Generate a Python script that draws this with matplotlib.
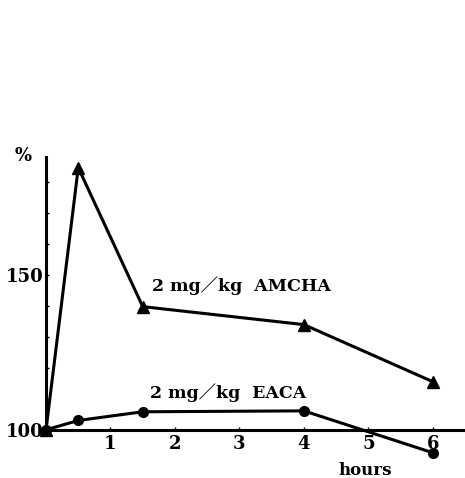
import matplotlib
matplotlib.use("Agg")
import matplotlib.pyplot as plt

# data
hours = [0, 0.5, 1.5, 4, 6]
amcha = [100, 184.5, 139.7, 133.9, 115.5]
eaca = [100, 103.0, 105.8, 106.1, 92.6]
xticks = [1, 2, 3, 4, 5, 6]
yticks_major = [100, 150]
yticks_minor = [110, 120, 130, 140, 160, 170, 180]

fam = ['DejaVu Serif', 'Noto Sans CJK JP']
plt.rcParams['font.family'] = fam

fig = plt.figure(figsize=(4.65, 4.78), dpi=100)
ax = fig.add_axes([0.099, 0.023, 0.901, 0.649])

ax.plot(hours, amcha, color='black', lw=2.2, marker='^', ms=8, clip_on=False, zorder=3)
ax.plot(hours, eaca, color='black', lw=2.2, marker='o', ms=7, clip_on=False, zorder=3)

ax.set_xlim(0, 6.5)
ax.set_ylim(88, 188)

for s in ['top', 'right']:
    ax.spines[s].set_visible(False)
ax.spines['bottom'].set_position(('data', 100))
ax.spines['left'].set_bounds(100, 188)
ax.spines['bottom'].set_linewidth(2.2)
ax.spines['left'].set_linewidth(2.2)

ax.set_xticks(xticks)
ax.set_xticklabels([str(t) for t in xticks], fontsize=13, fontweight='bold')
ax.tick_params(axis='x', direction='in', length=2.5, width=1, pad=4)
ax.set_yticks(yticks_major)
ax.set_yticklabels([str(t) for t in yticks_major], fontsize=13, fontweight='bold')
ax.set_yticks(yticks_minor, minor=True)
ax.tick_params(axis='y', which='both', direction='in', length=2.5, width=1, pad=2)

ax.text(-0.35, 188.3, '%', fontsize=13, fontweight='bold', ha='center', va='center', clip_on=False)
ax.text(4.95, 86.8, 'hours', fontsize=12, fontweight='bold', ha='center', va='center')
ax.text(1.64, 146.6, '2 mg／kg  AMCHA', fontsize=12.5, fontweight='bold', ha='left', va='center')
ax.text(1.62, 111.9, '2 mg／kg  EACA', fontsize=12.5, fontweight='bold', ha='left', va='center')

fig.savefig('out.png', dpi=100)
